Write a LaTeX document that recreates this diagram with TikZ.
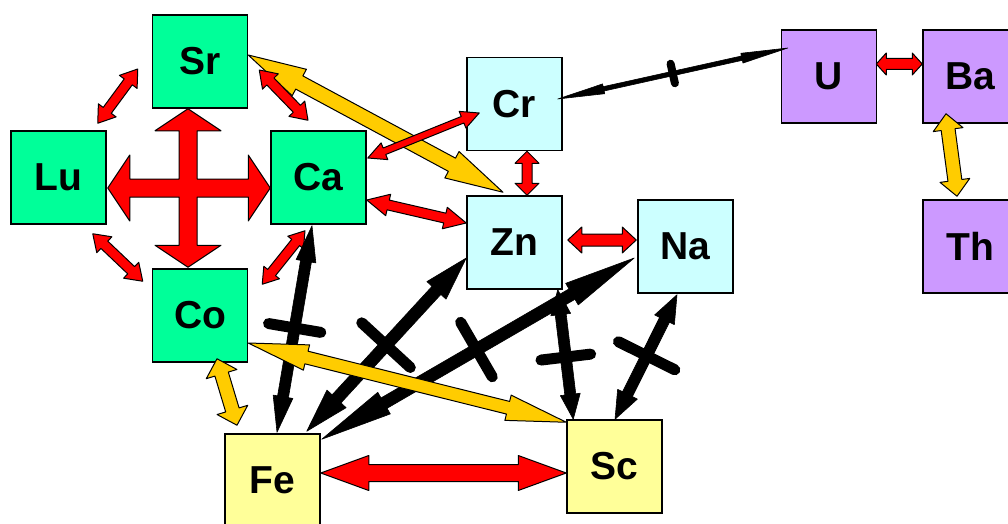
\documentclass[tikz,border=0pt]{standalone}
\usepackage{fontspec}
\setmainfont{Liberation Sans}
\usetikzlibrary{calc}
\definecolor{grn}{RGB}{0,255,153}
\definecolor{cyn}{RGB}{204,255,255}
\definecolor{pur}{RGB}{204,153,255}
\definecolor{yel}{RGB}{255,255,153}
\definecolor{redA}{RGB}{255,0,0}
\definecolor{orgA}{RGB}{255,204,0}
% double block arrow: #1 style, #2 from, #3 to, #4 shaft half width, #5 head half width, #6 head length
\newcommand\dblarrow[6]{%
  \coordinate (da1) at ($(#2)!#6!(#3)$);
  \coordinate (da2) at ($(#3)!#6!(#2)$);
  \draw[#1] (#2) -- ($(da1)!#5!90:(#3)$) -- ($(da1)!#4!90:(#3)$)
    -- ($(da2)!#4!-90:(#2)$) -- ($(da2)!#5!-90:(#2)$) -- (#3)
    -- ($(da2)!#5!90:(#2)$) -- ($(da2)!#4!90:(#2)$)
    -- ($(da1)!#4!-90:(#3)$) -- ($(da1)!#5!-90:(#3)$) -- cycle;
}
% blocking bar across a connector: #1 from, #2 to, #3 position, #4 half length, #5 thickness
\newcommand\barmark[5]{%
  \coordinate (bm) at ($(#1)!#3!(#2)$);
  \draw[barline, line width=#5] ($(bm)!#4!90:(#2)$) -- ($(bm)!#4!-90:(#2)$);
}
\begin{document}
\begin{tikzpicture}[x=1pt,y=-1pt,
  elem/.style={draw=black, line width=1.5pt, minimum width=95pt, minimum height=93pt,
    inner sep=0pt, font=\fontsize{39}{39}\selectfont\bfseries},
  redarr/.style={fill=redA, draw=black, line width=1pt, line join=round},
  orgarr/.style={fill=orgA, draw=black, line width=1pt, line join=round},
  blkarr/.style={fill=black, draw=black, line width=0.6pt, line join=round},
  barline/.style={draw=black, line cap=round}]
\clip (0,0) rectangle (1008,524);
\fill[white] (0,0) rectangle (1008,524);
% nodes
\node[elem, fill=grn] (Sr) at (200,61.5) {Sr};
\node[elem, fill=grn] (Lu) at (58.5,177.5) {Lu};
\node[elem, fill=grn] (Ca) at (318.5,177.5) {Ca};
\node[elem, fill=grn] (Co) at (200,315.5) {Co};
\node[elem, fill=cyn] (Cr) at (514.5,104) {Cr};
\node[elem, fill=cyn] (Zn) at (514.5,242.5) {Zn};
\node[elem, fill=cyn] (Na) at (685.5,246.5) {Na};
\node[elem, fill=pur] (U) at (829,76.5) {U};
\node[elem, fill=pur] (Ba) at (970.5,76.5) {Ba};
\node[elem, fill=pur] (Th) at (970.5,246.5) {Th};
\node[elem, fill=yel] (Fe) at (272.5,480.5) {Fe};
\node[elem, fill=yel] (Sc) at (614.5,466.5) {Sc};
% connector end points
\coordinate (srlu1) at ($(Sr.west)+(-14,7.5)$);
\coordinate (srlu2) at ($(Lu.north east)+(-9,-7)$);
\coordinate (srca1) at ($(Sr.east)+(11,8.5)$);
\coordinate (srca2) at ($(Ca.north)+(-10.5,-10)$);
\coordinate (luco1) at ($(Lu.south east)+(-14,9)$);
\coordinate (luco2) at ($(Co.north west)+(-9,13)$);
\coordinate (caco1) at ($(Ca.south)+(-13.5,6)$);
\coordinate (caco2) at ($(Co.north east)+(14,16)$);
\coordinate (srzn1) at ($(Sr.east)+(0,-6.5)$);
\coordinate (srzn2) at ($(Zn.north)+(-11.5,-3)$);
\coordinate (cacr1) at ($(Ca.east)+(1,-19.5)$);
\coordinate (cacr2) at ($(Cr.west)+(13,9)$);
\coordinate (cazn1) at ($(Ca.east)+(0,22.5)$);
\coordinate (cazn2) at ($(Zn.west)+(0,-19.5)$);
\coordinate (crzn1) at ($(Cr.south)+(12.5,0)$);
\coordinate (crzn2) at ($(Zn.north)+(12.5,0)$);
\coordinate (znna1) at ($(Zn.east)+(5,-2.5)$);
\coordinate (znna2) at ($(Na.west)+(-1,-6.5)$);
\coordinate (cru1) at ($(Cr.east)+(-5,-5)$);
\coordinate (cru2) at ($(U.west)+(7,-28.5)$);
\coordinate (uba1) at ($(U.east)+(-1,-12.5)$);
\coordinate (uba2) at ($(Ba.west)+(0,-12.5)$);
\coordinate (bath1) at ($(Ba.south)+(-24.5,-10)$);
\coordinate (bath2) at ($(Th.north)+(-13.5,-3)$);
\coordinate (cofe1) at ($(Co.south)+(17,-4)$);
\coordinate (cofe2) at ($(Fe.north)+(-35.5,-8)$);
\coordinate (cosc1) at ($(Co.east)+(0,27.5)$);
\coordinate (cosc2) at ($(Sc.north west)+(0,3)$);
\coordinate (cafe1) at ($(Ca.south)+(-6.5,1)$);
\coordinate (cafe2) at ($(Fe.north)+(4.5,-1)$);
\coordinate (znfe1) at ($(Zn.west)+(0,15.5)$);
\coordinate (znfe2) at ($(Fe.north east)+(-14,-2)$);
\coordinate (nafe1) at ($(Na.west)+(-3,11.5)$);
\coordinate (nafe2) at ($(Fe.north east)+(1,6)$);
\coordinate (znsc1) at ($(Zn.south east)+(-5,0)$);
\coordinate (znsc2) at ($(Sc.north west)+(7,0)$);
\coordinate (nasc1) at ($(Na.south)+(-8.5,1)$);
\coordinate (nasc2) at ($(Sc.north)+(0.5,0)$);
\coordinate (fesc1) at ($(Fe.east)+(0,-7.5)$);
\coordinate (fesc2) at ($(Sc.west)+(0,6.5)$);
% four-way arrow between Sr, Lu, Ca, Co
\coordinate (xT) at ($(Sr.south)+(-12,0)$);
\coordinate (xB) at ($(Co.north)+(-12,-1)$);
\coordinate (xL) at ($(Lu.east)+(1,10.5)$);
\coordinate (xR) at ($(Ca.west)+(0,10.5)$);
\coordinate (xC) at (xT |- xL);
\draw[redarr] (xT) -- ($(xT)+(33,22)$) -- ($(xT)+(9,22)$) -- ($(xC)+(9,-9)$)
  -- ($(xR)+(-22,-9)$) -- ($(xR)+(-22,-33)$) -- (xR) -- ($(xR)+(-22,33)$)
  -- ($(xR)+(-22,9)$) -- ($(xC)+(9,9)$) -- ($(xB)+(9,-22)$) -- ($(xB)+(33,-22)$)
  -- (xB) -- ($(xB)+(-33,-22)$) -- ($(xB)+(-9,-22)$) -- ($(xC)+(-9,9)$)
  -- ($(xL)+(22,9)$) -- ($(xL)+(22,33)$) -- (xL) -- ($(xL)+(22,-33)$)
  -- ($(xL)+(22,-9)$) -- ($(xC)+(-9,-9)$) -- ($(xT)+(-9,22)$) -- ($(xT)+(-33,22)$) -- cycle;
% orange and red connectors
\dblarrow{orgarr}{srzn1}{srzn2}{7.5pt}{15pt}{58pt}
\dblarrow{redarr}{srlu1}{srlu2}{5pt}{11pt}{16pt}
\dblarrow{redarr}{srca1}{srca2}{5pt}{11pt}{16pt}
\dblarrow{redarr}{luco1}{luco2}{5pt}{11pt}{16pt}
\dblarrow{redarr}{caco1}{caco2}{5pt}{10pt}{15pt}
\dblarrow{redarr}{cacr1}{cacr2}{3.5pt}{9pt}{18pt}
\dblarrow{redarr}{cazn1}{cazn2}{5pt}{11pt}{22pt}
\dblarrow{redarr}{crzn1}{crzn2}{5pt}{12pt}{12pt}
\dblarrow{redarr}{znna1}{znna2}{6pt}{13pt}{14pt}
\dblarrow{redarr}{uba1}{uba2}{5.5pt}{11pt}{10pt}
\dblarrow{orgarr}{bath1}{bath2}{7pt}{15pt}{16pt}
\dblarrow{redarr}{fesc1}{fesc2}{8.5pt}{17.5pt}{48pt}
% black connectors
\dblarrow{blkarr}{cru1}{cru2}{2.2pt}{5pt}{47pt}
\dblarrow{blkarr}{cafe1}{cafe2}{5.5pt}{10pt}{36pt}
\dblarrow{blkarr}{znfe1}{znfe2}{6pt}{13pt}{44pt}
\dblarrow{blkarr}{nafe1}{nafe2}{6pt}{12.5pt}{72pt}
\dblarrow{blkarr}{znsc1}{znsc2}{5.5pt}{10pt}{25pt}
\dblarrow{blkarr}{nasc1}{nasc2}{5.5pt}{11pt}{28pt}
% orange connectors on top
\dblarrow{orgarr}{cofe1}{cofe2}{7pt}{16pt}{16pt}
\dblarrow{orgarr}{cosc1}{cosc2}{6.5pt}{13pt}{60pt}
% blocking bars
\barmark{cru1}{cru2}{0.5}{10pt}{8pt}
\barmark{cafe1}{cafe2}{0.495}{26.5pt}{11pt}
\barmark{znfe1}{znfe2}{0.503}{33pt}{11pt}
\barmark{nafe1}{nafe2}{0.505}{31.5pt}{11pt}
\barmark{znsc1}{znsc2}{0.52}{25pt}{11pt}
\barmark{nasc1}{nasc2}{0.49}{31.5pt}{11pt}
\end{tikzpicture}
\end{document}
